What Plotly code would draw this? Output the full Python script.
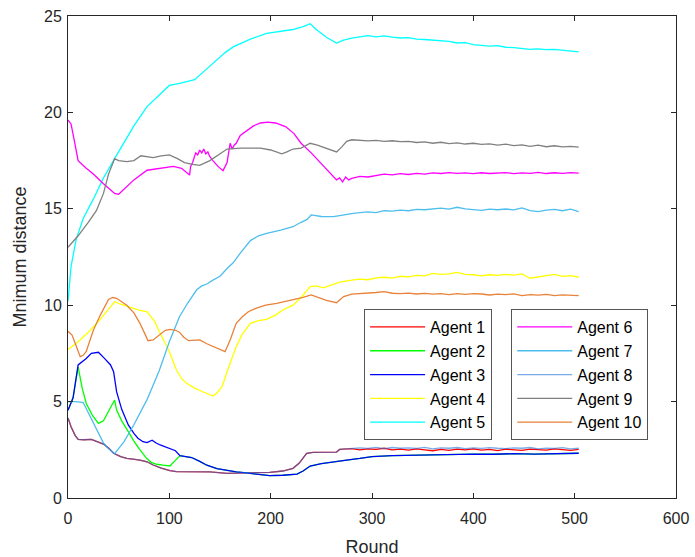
import plotly.graph_objects as go

# ---- data: minimum distance per round for each agent ----
TAIL_ROUNDS = [280, 288, 296, 304, 312, 320, 328, 336, 344, 352, 360, 368, 376, 384, 392,
               400, 408, 416, 424, 432, 440, 448, 456, 464, 472, 480, 488, 496, 504]

# Agents 1 and 8 share the same trajectory until they settle
a18_rounds = [0, 3, 7, 10, 16, 23, 30, 35, 40, 45, 52, 58, 64, 71, 78, 84, 92, 100.6, 107, 120,
              140, 157, 175, 199, 212, 222, 228, 232, 235.5, 242, 255, 265, 268, 272]
a18_values = [4.15, 3.7, 3.25, 3.04, 3.02, 3.04, 2.9, 2.8, 2.6, 2.32, 2.15, 2.06, 2.02, 1.97, 1.88,
              1.71, 1.55, 1.42, 1.37, 1.37, 1.35, 1.28, 1.3, 1.33, 1.4, 1.54, 1.8, 2.05, 2.32, 2.37,
              2.36, 2.38, 2.52, 2.54]
a1_tail = [2.56, 2.5, 2.55, 2.52, 2.58, 2.5, 2.53, 2.48, 2.55, 2.5, 2.45, 2.52, 2.47, 2.53, 2.5,
           2.55, 2.48, 2.52, 2.46, 2.53, 2.5, 2.47, 2.54, 2.5, 2.48, 2.55, 2.5, 2.47, 2.52]
a8_tail = [2.58, 2.6, 2.57, 2.63, 2.56, 2.62, 2.58, 2.6, 2.57, 2.63, 2.55, 2.6, 2.58, 2.62, 2.56,
           2.6, 2.57, 2.61, 2.58, 2.56, 2.6, 2.58, 2.62, 2.55, 2.59, 2.57, 2.61, 2.55, 2.58]

a3_rounds = [0, 5, 10, 14, 18, 23, 30, 36, 42, 45, 48, 53, 59.5, 65, 69, 74, 78, 83, 87, 91, 96,
             101, 106, 110.5, 116, 122, 130, 137, 147, 157, 166, 176, 190, 199, 212, 226, 232, 239,
             250, 262, 275, 288, 300, 320, 340, 360, 380, 400, 420, 440, 460, 480, 504]
a3_values = [4.55, 5.2, 6.9, 7.05, 7.24, 7.5, 7.56, 7.24, 6.9, 6.55, 5.5, 4.6, 3.79, 3.35, 3.1,
             2.92, 2.87, 3.0, 2.85, 2.75, 2.65, 2.58, 2.45, 2.2, 2.15, 2.1, 1.9, 1.7, 1.52, 1.42,
             1.35, 1.3, 1.2, 1.16, 1.18, 1.24, 1.4, 1.66, 1.78, 1.85, 1.96, 2.05, 2.15, 2.2, 2.22,
             2.25, 2.24, 2.28, 2.27, 2.3, 2.28, 2.3, 2.32]

# Agent 2 joins agent 3's path after round 110
a2_rounds = [0, 5, 10, 14, 18, 24, 30, 35, 40, 46, 48, 53, 59.5, 65, 71, 77.6, 82, 87.5, 94,
             100.6, 105]
a2_values = [4.55, 5.2, 6.8, 5.7, 4.9, 4.3, 3.87, 4.0, 4.5, 5.08, 4.56, 4.0, 3.44, 2.95, 2.5,
             2.06, 1.85, 1.75, 1.7, 1.66, 1.9]

a4_rounds = [0, 10, 20, 30, 40, 46, 52, 60, 70, 78, 85, 91, 100, 107, 112, 117, 125, 133, 140,
             143, 147, 152, 158, 166, 172, 180, 188, 196, 205, 212, 222, 230, 239, 245, 252, 260,
             268]
a4_values = [7.7, 8.1, 8.6, 9.15, 9.8, 10.18, 10.05, 9.9, 9.75, 9.66, 9.2, 8.55, 7.6, 6.64, 6.2,
             5.95, 5.7, 5.51, 5.35, 5.29, 5.45, 5.77, 6.7, 7.85, 8.5, 9.06, 9.2, 9.27, 9.5, 9.75,
             10.0, 10.4, 10.96, 11.0, 10.9, 11.05, 11.2]
a4_tail = [11.3, 11.35, 11.32, 11.42, 11.45, 11.4, 11.5, 11.47, 11.55, 11.52, 11.65, 11.6, 11.62,
           11.7, 11.6, 11.58, 11.52, 11.58, 11.55, 11.6, 11.56, 11.62, 11.4, 11.47, 11.55, 11.6,
           11.5, 11.53, 11.45]

a5_rounds = [0, 3, 8, 15, 25, 35, 46, 55, 65, 78, 90, 100, 110, 125, 140, 155, 163, 180, 196,
             210, 222, 232, 239, 245, 255, 265, 272]
a5_values = [10.2, 12.0, 13.4, 14.5, 15.5, 16.6, 17.6, 18.4, 19.3, 20.3, 20.9, 21.4, 21.5, 21.7,
             22.4, 23.1, 23.4, 23.8, 24.1, 24.2, 24.3, 24.45, 24.6, 24.3, 23.9, 23.6, 23.75]
a5_tail = [23.85, 23.93, 23.98, 23.92, 23.97, 23.9, 23.86, 23.88, 23.8, 23.78, 23.74, 23.7, 23.68,
           23.6, 23.62, 23.52, 23.48, 23.44, 23.46, 23.38, 23.36, 23.33, 23.27, 23.3, 23.26, 23.27,
           23.22, 23.19, 23.14]

a6_rounds = [0, 3, 6, 10, 18, 25, 35, 46, 50, 55, 65, 78, 90, 104, 112, 118, 120, 121, 123, 126,
             128, 130, 132, 134, 136, 138, 140, 143, 148, 153, 157, 160, 162, 164, 166, 170, 176,
             183, 190, 197, 205, 215, 223, 230, 240, 249, 257, 265, 268, 271, 274, 277]
a6_values = [19.6, 19.4, 18.6, 17.5, 17.1, 16.8, 16.3, 15.8, 15.75, 16.0, 16.5, 17.0, 17.1, 17.2,
             17.1, 16.8, 16.75, 17.2, 17.4, 17.9, 17.8, 18.05, 17.9, 18.1, 17.85, 17.95, 17.7, 17.5,
             17.2, 16.98, 17.4, 18.4, 18.1, 18.3, 18.4, 18.8, 19.05, 19.3, 19.45, 19.5, 19.45,
             19.25, 18.9, 18.4, 17.9, 17.4, 16.9, 16.5, 16.6, 16.4, 16.65, 16.5]
a6_tail = [16.58, 16.68, 16.65, 16.74, 16.8, 16.76, 16.82, 16.78, 16.84, 16.8, 16.86, 16.83, 16.88,
           16.84, 16.86, 16.82, 16.87, 16.83, 16.85, 16.88, 16.82, 16.86, 16.84, 16.89, 16.83,
           16.87, 16.84, 16.88, 16.85]

a7_rounds = [0, 8, 15, 22, 30, 35, 40, 46, 55, 65, 78, 90, 100, 105, 110, 118, 127, 132, 137, 143,
             150, 157, 163, 170, 180, 188, 196, 210, 222, 230, 236, 240, 250, 262, 272]
a7_values = [5.0, 5.0, 4.95, 4.2, 3.3, 2.85, 2.55, 2.3, 2.9, 3.8, 5.1, 6.6, 8.1, 8.8, 9.4, 10.1,
             10.8, 11.0, 11.1, 11.3, 11.5, 11.9, 12.2, 12.7, 13.35, 13.6, 13.73, 13.9, 14.07, 14.3,
             14.45, 14.68, 14.6, 14.59, 14.7]
a7_tail = [14.75, 14.8, 14.84, 14.8, 14.9, 14.88, 14.93, 14.9, 14.97, 14.95, 15.0, 15.03, 14.98,
           15.08, 15.0, 14.96, 14.92, 14.98, 14.95, 14.99, 14.94, 15.05, 14.9, 14.85, 14.93, 14.97,
           14.9, 14.98, 14.85]

a9_rounds = [0, 10, 20, 28, 35, 40, 46, 50, 58, 65, 72, 78, 84, 92, 100, 108, 115, 123, 130, 140,
             150, 157, 170, 180, 190, 200, 211, 216, 222, 230, 239, 246, 255, 260, 265, 270, 275]
a9_values = [13.0, 13.6, 14.3, 14.9, 15.8, 16.8, 17.6, 17.5, 17.45, 17.5, 17.75, 17.7, 17.65,
             17.75, 17.8, 17.6, 17.4, 17.3, 17.25, 17.5, 17.85, 18.1, 18.15, 18.15, 18.15, 18.05,
             17.85, 17.95, 18.1, 18.15, 18.4, 18.3, 18.15, 18.05, 17.95, 18.2, 18.5]
a9_tail = [18.58, 18.55, 18.52, 18.55, 18.5, 18.53, 18.48, 18.5, 18.44, 18.47, 18.4, 18.45, 18.38,
           18.42, 18.36, 18.4, 18.34, 18.37, 18.3, 18.35, 18.28, 18.32, 18.24, 18.3, 18.22, 18.27,
           18.21, 18.24, 18.2]

a10_rounds = [0, 4, 8, 12, 15, 18, 25, 32, 40, 44, 48, 53, 58, 65, 71, 76, 79, 84, 90, 96, 101,
              106, 110, 114, 119, 125, 130, 137, 143, 150, 155, 160, 166, 172, 178, 186, 195, 206,
              215, 222, 232, 240, 248, 255, 265, 272]
a10_values = [8.65, 8.45, 7.9, 7.33, 7.4, 7.6, 8.7, 9.5, 10.3, 10.4, 10.36, 10.2, 10.0, 9.6, 9.06,
              8.5, 8.16, 8.2, 8.45, 8.7, 8.75, 8.7, 8.6, 8.35, 8.16, 8.2, 8.2, 8.0, 7.85, 7.7, 7.59,
              8.2, 9.06, 9.4, 9.66, 9.85, 10.0, 10.1, 10.2, 10.3, 10.4, 10.53, 10.4, 10.25, 10.13,
              10.45]
a10_tail = [10.58, 10.6, 10.62, 10.66, 10.7, 10.62, 10.6, 10.63, 10.58, 10.61, 10.57, 10.6, 10.55,
            10.6, 10.56, 10.6, 10.58, 10.53, 10.57, 10.55, 10.59, 10.5, 10.55, 10.52, 10.56, 10.5,
            10.54, 10.53, 10.5]

AGENT_NAMES = [f"Agent {i}" for i in range(1, 11)]
COLORS = ["#ff0000", "#00ff00", "#0000ff", "#ffff00", "#00ffff",
          "#ff00ff", "#4dbeee", "rgba(40,120,220,0.62)", "#808080", "#e8823a"]

# assemble per-agent (rounds, values)
a3_join = next(i for i, r in enumerate(a3_rounds) if r >= 110.5)
series = [
    (a18_rounds + TAIL_ROUNDS, a18_values + a1_tail),
    (a2_rounds + a3_rounds[a3_join:], a2_values + a3_values[a3_join:]),
    (a3_rounds, a3_values),
    (a4_rounds + TAIL_ROUNDS, a4_values + a4_tail),
    (a5_rounds + TAIL_ROUNDS, a5_values + a5_tail),
    (a6_rounds + TAIL_ROUNDS, a6_values + a6_tail),
    (a7_rounds + TAIL_ROUNDS, a7_values + a7_tail),
    (a18_rounds + TAIL_ROUNDS, a18_values + a8_tail),
    (a9_rounds + TAIL_ROUNDS, a9_values + a9_tail),
    (a10_rounds + TAIL_ROUNDS, a10_values + a10_tail),
]

FONT = "Liberation Sans, Arial, sans-serif"
INK = "#262626"

fig = go.Figure()
for k, ((xs, ys), name, col) in enumerate(zip(series, AGENT_NAMES, COLORS)):
    fig.add_trace(go.Scatter(
        x=xs, y=ys, mode="lines", name=name,
        line=dict(color=col, width=1.3),
        legend="legend" if k < 5 else "legend2",
    ))

legend_style = dict(
    xanchor="left", yanchor="top", y=0.392,
    bgcolor="white", bordercolor="#555555", borderwidth=1,
    font=dict(family=FONT, size=16, color="black"),
    itemwidth=55, tracegroupgap=0,
)

axis_style = dict(
    showline=True, linecolor=INK, linewidth=1, mirror="ticks",
    ticks="inside", ticklen=5, tickcolor=INK, showgrid=False, zeroline=False,
    tickfont=dict(family=FONT, size=16, color=INK),
)

fig.update_layout(
    width=695, height=557,
    margin=dict(l=68, r=19, t=16, b=59),
    paper_bgcolor="white", plot_bgcolor="white",
    xaxis=dict(range=[0, 600], dtick=100, automargin=False, ticklabelstandoff=6,
               title=dict(text="Round", font=dict(family=FONT, size=18, color=INK), standoff=14),
               **axis_style),
    yaxis=dict(range=[0, 25], dtick=5, automargin=False, ticklabelstandoff=2,
               title=dict(text="Mnimum distance", font=dict(family=FONT, size=18, color=INK),
                          standoff=12),
               **axis_style),
    legend=dict(x=0.487, **legend_style),
    legend2=dict(x=0.729, **legend_style),
)

fig.write_html("out.html")
